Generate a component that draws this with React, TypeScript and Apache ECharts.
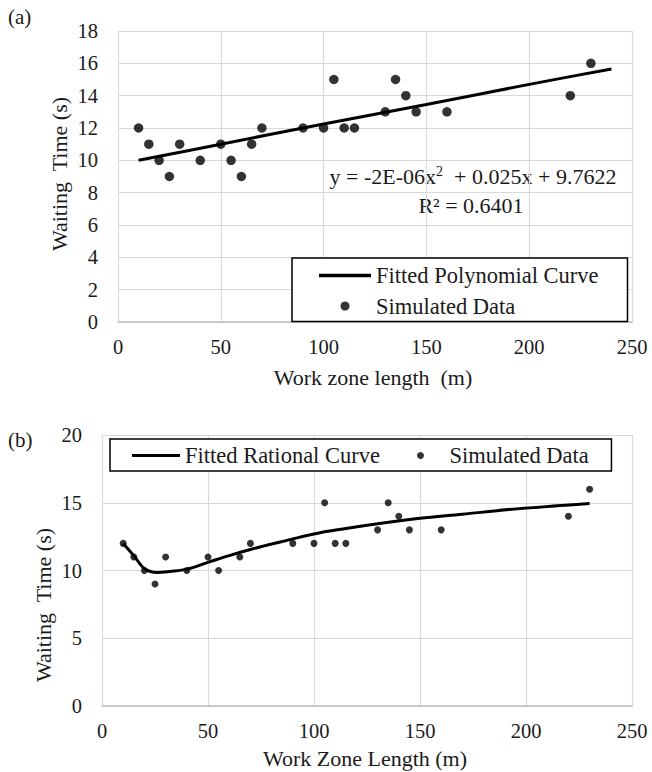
import React, { useEffect, useRef } from "react";
import * as echarts from "echarts";

// Panel (a) simulated data
const dataAX = [10, 15, 20, 25, 30, 40, 50, 55, 60, 65, 70, 90, 100, 105, 110, 115, 130, 135, 140, 145, 160, 220, 230];
const dataAY = [12, 11, 10, 9, 11, 10, 11, 10, 9, 11, 12, 12, 12, 15, 12, 12, 13, 15, 14, 13, 13, 14, 16];
// Panel (a) fitted polynomial curve
const polyX = [10, 50, 100, 150, 200, 240];
const polyY = [10.0, 11.0, 12.25, 13.45, 14.7, 15.65];

// Panel (b) simulated data
const dataBX = [10, 15, 20, 25, 30, 40, 50, 55, 65, 70, 90, 100, 105, 110, 115, 130, 135, 140, 145, 160, 220, 230];
const dataBY = [12, 11, 10, 9, 11, 10, 11, 10, 11, 12, 12, 12, 15, 12, 12, 13, 15, 14, 13, 13, 14, 16];
// Panel (b) fitted rational curve
const ratX = [10, 15, 20, 26, 32, 40, 50, 60, 70, 84, 100, 115, 130, 150, 170, 192, 230];
const ratY = [12.0, 11.1, 10.15, 9.85, 9.93, 10.1, 10.6, 11.1, 11.55, 12.1, 12.7, 13.1, 13.45, 13.85, 14.15, 14.5, 14.95];

const xTicksA = { min: 0, max: 250, interval: 50 };
const yTicksA = { min: 0, max: 18, interval: 2 };
const xTicksB = { min: 0, max: 250, interval: 50 };
const yTicksB = { min: 0, max: 20, interval: 5 };

const FONT = "'Liberation Serif', 'Times New Roman', Times, 'DejaVu Serif', serif";
const TXT = "#1a1a1a";
const GRID = "#d9d9d9";
const LINE_ICON = "path://M0 0H60V4H0Z";

const zip = (xs: number[], ys: number[]) => xs.map((x, i) => [x, ys[i]]);

export default function App() {
  const ref = useRef<HTMLDivElement>(null);
  useEffect(() => {
    if (!ref.current) return;
    const chart = echarts.init(ref.current, null, { renderer: "svg" });
    const axisLabel = { color: TXT, fontFamily: FONT, fontSize: 20.5 };
    const xAxisCommon = (t: any, gi: number) => ({
      type: "value",
      gridIndex: gi,
      min: t.min,
      max: t.max,
      interval: t.interval,
      axisLine: { show: true, lineStyle: { color: "#bfbfbf", width: 1.5 } },
      axisTick: { show: false },
      splitLine: { show: true, lineStyle: { color: GRID, width: 1.2 } },
      axisLabel: { ...axisLabel, margin: 14 },
    });
    const yAxisCommon = (t: any, gi: number) => ({
      type: "value",
      gridIndex: gi,
      min: t.min,
      max: t.max,
      interval: t.interval,
      axisLine: { show: false },
      axisTick: { show: false },
      splitLine: { show: true, lineStyle: { color: GRID, width: 1.2 } },
      axisLabel: { ...axisLabel, margin: 20 },
    });
    chart.setOption({
      animation: false,
      backgroundColor: "#ffffff",
      grid: [
        { left: 118, right: 20, top: 31, height: 291 },
        { left: 102, right: 20, top: 435, height: 271 },
      ],
      xAxis: [xAxisCommon(xTicksA, 0), xAxisCommon(xTicksB, 1)],
      yAxis: [yAxisCommon(yTicksA, 0), yAxisCommon(yTicksB, 1)],
      legend: [
        {
          orient: "vertical",
          left: 292,
          top: 258,
          padding: [6, 29, 4, 27],
          itemGap: 7.5,
          itemWidth: 52,
          itemHeight: 9,
          borderColor: "#000",
          borderWidth: 1.5,
          backgroundColor: "#fff",
          selectedMode: false,
          textStyle: { color: TXT, fontFamily: FONT, fontSize: 22.5 },
          data: [
            { name: "Fitted Polynomial Curve", icon: LINE_ICON },
            { name: "Simulated Data", icon: "circle" },
          ],
        },
        {
          orient: "horizontal",
          left: 110,
          top: 439,
          padding: [5, 17, 4, 22],
          itemGap: 37,
          itemWidth: 48,
          itemHeight: 7,
          borderColor: "#000",
          borderWidth: 1.5,
          backgroundColor: "#fff",
          selectedMode: false,
          textStyle: { color: TXT, fontFamily: FONT, fontSize: 22.5 },
          data: [
            { name: "Fitted Rational Curve", icon: LINE_ICON },
            { name: "Simulated Data ", icon: "circle" },
          ],
        },
      ],
      series: [
        {
          name: "Fitted Polynomial Curve",
          type: "line",
          xAxisIndex: 0,
          yAxisIndex: 0,
          data: zip(polyX, polyY),
          smooth: 0.3,
          showSymbol: false,
          symbol: "none",
          lineStyle: { color: "#000", width: 3 },
          itemStyle: { color: "#000" },
          z: 3,
        },
        {
          name: "Simulated Data",
          type: "scatter",
          xAxisIndex: 0,
          yAxisIndex: 0,
          data: zip(dataAX, dataAY),
          symbol: "circle",
          symbolSize: 9.5,
          itemStyle: { color: "#000" },
          z: 4,
        },
        {
          name: "Fitted Rational Curve",
          type: "line",
          xAxisIndex: 1,
          yAxisIndex: 1,
          data: zip(ratX, ratY),
          smooth: 0.35,
          showSymbol: false,
          symbol: "none",
          lineStyle: { color: "#000", width: 3 },
          itemStyle: { color: "#000" },
          z: 3,
        },
        {
          name: "Simulated Data ",
          type: "scatter",
          xAxisIndex: 1,
          yAxisIndex: 1,
          data: zip(dataBX, dataBY),
          symbol: "circle",
          symbolSize: 7,
          itemStyle: { color: "#000" },
          z: 4,
        },
      ],
      graphic: [
        { type: "text", x: 8, y: 6, style: { text: "(a)", font: `21px ${FONT}`, fill: TXT } },
        { type: "text", x: 8, y: 429, style: { text: "(b)", font: `21px ${FONT}`, fill: TXT } },
        {
          type: "text",
          x: 59,
          y: 174,
          rotation: Math.PI / 2,
          style: { text: "Waiting  Time (s)", font: `22px ${FONT}`, fill: TXT, align: "center", verticalAlign: "middle" },
        },
        {
          type: "text",
          x: 43,
          y: 605,
          rotation: Math.PI / 2,
          style: { text: "Waiting  Time (s)", font: `22px ${FONT}`, fill: TXT, align: "center", verticalAlign: "middle" },
        },
        {
          type: "text",
          x: 373,
          y: 377,
          style: { text: "Work zone length  (m)", font: `22px ${FONT}`, fill: TXT, align: "center", verticalAlign: "middle" },
        },
        {
          type: "text",
          x: 365,
          y: 758,
          style: { text: "Work Zone Length (m)", font: `22px ${FONT}`, fill: TXT, align: "center", verticalAlign: "middle" },
        },
        {
          type: "text",
          x: 473,
          y: 176,
          style: {
            text: "y = -2E-06x{sup|2}  + 0.025x + 9.7622",
            font: `22px ${FONT}`,
            fill: TXT,
            align: "center",
            verticalAlign: "middle",
            rich: {
              sup: { fontFamily: FONT, fontSize: 14, verticalAlign: "top", padding: [0, 0, 10, 0], fill: TXT },
            },
          },
        },
        {
          type: "text",
          x: 471,
          y: 205,
          style: { text: "R² = 0.6401", font: `22px ${FONT}`, fill: TXT, align: "center", verticalAlign: "middle" },
        },
      ],
    });
    return () => chart.dispose();
  }, []);
  return <div ref={ref} style={{ position: "fixed", left: 0, top: 0, width: 652, height: 772, background: "#fff" }} />;
}
